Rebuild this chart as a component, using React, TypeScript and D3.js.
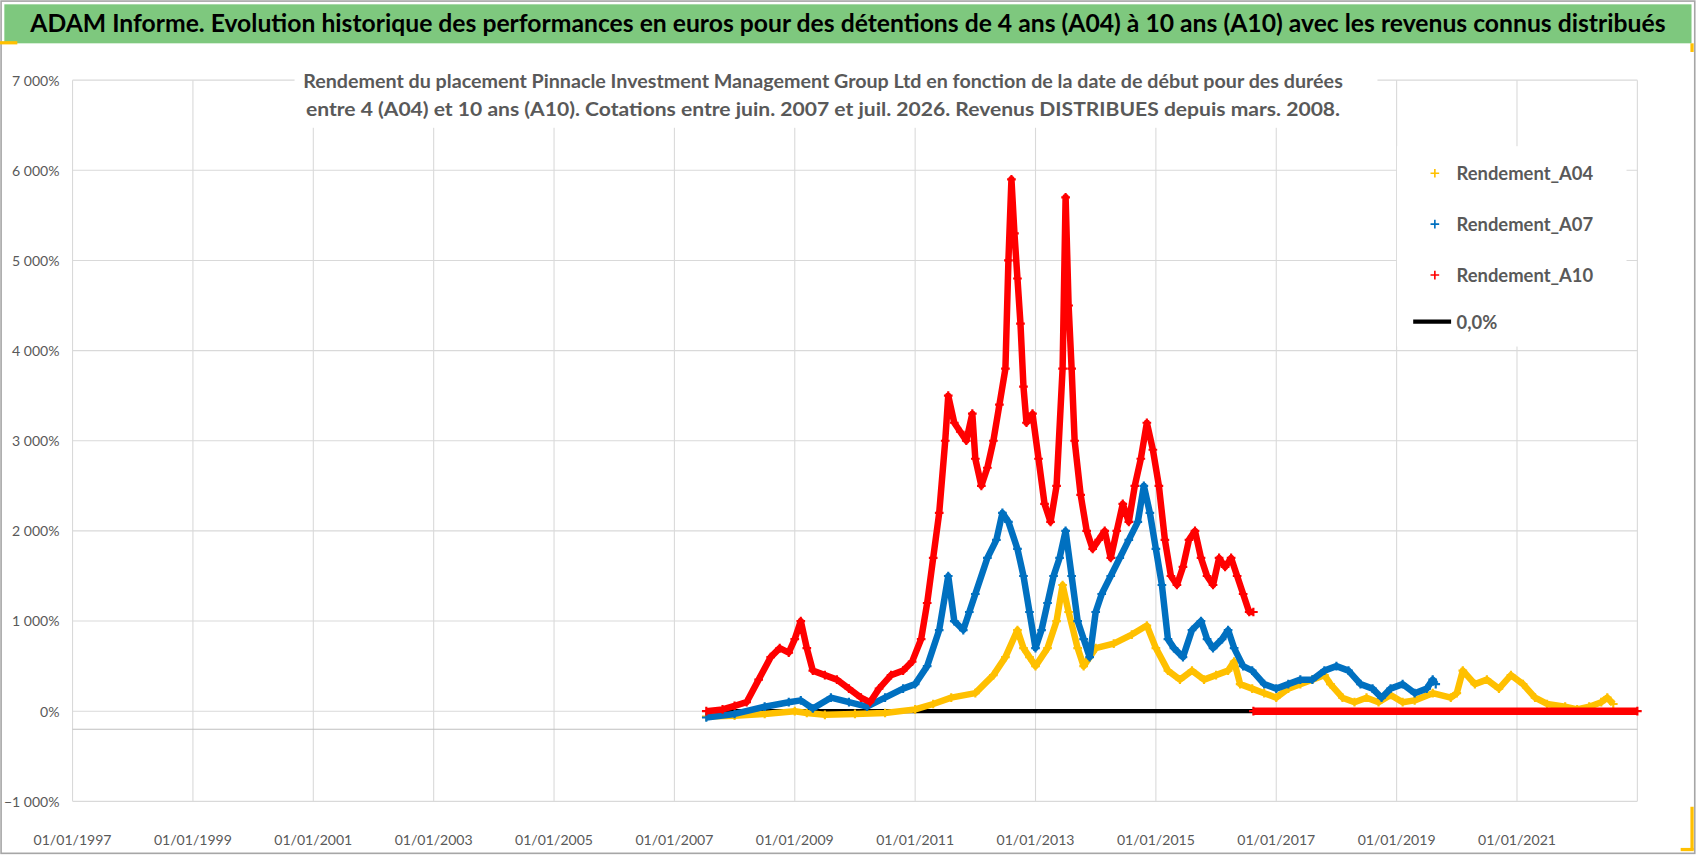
import React from "react";
import * as d3 from "d3";

const TITLE = "ADAM Informe. Evolution historique des performances en euros pour des détentions de 4 ans (A04) à 10 ans (A10) avec les revenus connus distribués";
const SUB1 = "Rendement du placement Pinnacle Investment Management Group Ltd en fonction de la date de début pour des durées";
const SUB2 = "entre 4 (A04) et 10 ans (A10).  Cotations entre juin. 2007 et juil. 2026. Revenus DISTRIBUES depuis mars. 2008.";

const xTickYears = [1997, 1999, 2001, 2003, 2005, 2007, 2009, 2011, 2013, 2015, 2017, 2019, 2021];
const yTicks = [-1000, 0, 1000, 2000, 3000, 4000, 5000, 6000, 7000];

const a10: [number, number][] = [
  [2007.53,0],[2007.8,20],[2008.0,60],[2008.2,100],[2008.4,350],[2008.6,600],[2008.75,700],[2008.9,650],[2009.0,800],[2009.1,1000],[2009.2,700],[2009.3,450],[2009.5,400],[2009.7,350],[2009.9,250],[2010.1,150],[2010.25,100],[2010.4,250],[2010.6,400],[2010.8,450],[2010.95,550],[2011.1,800],[2011.2,1200],[2011.3,1700],[2011.4,2200],[2011.5,3000],[2011.55,3500],[2011.65,3200],[2011.75,3100],[2011.85,3000],[2011.95,3300],[2012.0,2800],[2012.1,2500],[2012.2,2700],[2012.3,3000],[2012.4,3400],[2012.5,3800],[2012.55,5000],[2012.6,5900],[2012.65,5300],[2012.7,4800],[2012.75,4300],[2012.8,3600],[2012.85,3200],[2012.95,3300],[2013.05,2800],[2013.15,2300],[2013.25,2100],[2013.35,2500],[2013.45,3800],[2013.5,5700],[2013.55,4500],[2013.6,3800],[2013.65,3000],[2013.75,2400],[2013.85,2000],[2013.95,1800],[2014.05,1900],[2014.15,2000],[2014.25,1700],[2014.35,2000],[2014.45,2300],[2014.55,2100],[2014.65,2500],[2014.75,2800],[2014.85,3200],[2014.95,2900],[2015.05,2500],[2015.15,1900],[2015.25,1500],[2015.35,1400],[2015.45,1600],[2015.55,1900],[2015.65,2000],[2015.75,1700],[2015.85,1500],[2015.95,1400],[2016.05,1700],[2016.15,1600],[2016.25,1700],[2016.35,1500],[2016.45,1300],[2016.55,1100],[2016.62,1100]
];
const a10Zero: [number, number][] = [[2016.62,0],[2023.0,0]];

const a07: [number, number][] = [
  [2007.53,-70],[2008.0,-30],[2008.5,50],[2008.9,100],[2009.1,120],[2009.3,30],[2009.6,150],[2009.9,100],[2010.2,50],[2010.5,150],[2010.8,250],[2011.0,300],[2011.2,500],[2011.4,900],[2011.55,1500],[2011.65,1000],[2011.8,900],[2011.9,1100],[2012.0,1300],[2012.2,1700],[2012.35,1900],[2012.45,2200],[2012.55,2100],[2012.7,1800],[2012.8,1500],[2012.9,1100],[2013.0,700],[2013.1,900],[2013.2,1200],[2013.3,1500],[2013.4,1700],[2013.5,2000],[2013.6,1500],[2013.7,1000],[2013.8,800],[2013.9,600],[2014.0,1100],[2014.1,1300],[2014.25,1500],[2014.4,1700],[2014.55,1900],[2014.7,2100],[2014.8,2500],[2014.9,2200],[2015.0,1800],[2015.1,1400],[2015.2,800],[2015.3,700],[2015.45,600],[2015.6,900],[2015.75,1000],[2015.85,800],[2015.95,700],[2016.1,800],[2016.2,900],[2016.3,700],[2016.45,500],[2016.6,450],[2016.8,300],[2017.0,250],[2017.2,300],[2017.4,350],[2017.6,350],[2017.8,450],[2018.0,500],[2018.2,450],[2018.4,300],[2018.6,250],[2018.75,150],[2018.9,250],[2019.1,300],[2019.3,200],[2019.5,250],[2019.6,350],[2019.65,300]
];

const a04: [number, number][] = [
  [2007.53,-60],[2008.0,-50],[2008.5,-30],[2009.0,0],[2009.2,-20],[2009.5,-40],[2010.0,-30],[2010.5,-20],[2011.0,20],[2011.3,80],[2011.6,150],[2012.0,200],[2012.3,400],[2012.5,600],[2012.7,900],[2012.8,700],[2012.9,600],[2013.0,500],[2013.2,700],[2013.35,1000],[2013.45,1400],[2013.55,1100],[2013.7,700],[2013.8,500],[2014.0,700],[2014.3,750],[2014.6,850],[2014.85,950],[2015.0,700],[2015.2,450],[2015.4,350],[2015.6,450],[2015.8,350],[2016.0,400],[2016.2,450],[2016.3,550],[2016.4,300],[2016.6,250],[2016.8,200],[2017.0,150],[2017.2,250],[2017.4,300],[2017.6,350],[2017.8,400],[2017.9,300],[2018.1,150],[2018.3,100],[2018.5,150],[2018.7,100],[2018.9,180],[2019.1,100],[2019.3,120],[2019.6,200],[2019.9,150],[2020.0,200],[2020.1,450],[2020.3,300],[2020.5,350],[2020.7,250],[2020.9,400],[2021.1,300],[2021.3,150],[2021.5,80],[2021.8,50],[2022.0,20],[2022.2,50],[2022.4,100],[2022.5,150],[2022.6,80]
];
const zeroLine: [number, number][] = [[2007.53,0],[2016.62,0]];

const YELLOW = "#ffc000", BLUE = "#0070c0", RED = "#ff0000", GRAY = "#595959";
const FONT = "Lato, 'Open Sans', sans-serif";
const S = 1698 / 1568;

export default function App() {
  const L = 67, R = 1512, T = 74, B = 740;
  const x = d3.scaleLinear().domain([1997, 2023]).range([L, R]);
  const y = d3.scaleLinear().domain([-1000, 7000]).range([B, T]);
  const line = d3.line<[number, number]>().x(d => x(d[0])).y(d => y(d[1])).curve(d3.curveLinear);

  const series = (data: [number, number][], color: string, key: string) => (
    <g key={key}>
      <path d={line(data) || ""} fill="none" stroke={color} strokeWidth={6} strokeLinejoin="round" />
      {data.map((d, i) => (
        <path key={i} d={`M${x(d[0]) - 4},${y(d[1])}h8M${x(d[0])},${y(d[1]) - 4}v8`} stroke={color} strokeWidth={2} />
      ))}
    </g>
  );

  return (
    <svg width={1698} height={856} style={{ position: "absolute", left: 0, top: 0, fontFamily: FONT }}>
      <rect x={0} y={0} width={1698} height={856} fill="#fff" />
      <g transform={`scale(${S})`}>
      <rect x={1} y={1} width={1564} height={787} fill="none" stroke="#a6a6a6" strokeWidth={1.5} />
      <rect x={4} y={4} width={1558} height={36} fill="#7ec87e" />
      <text x={783} y={30} textAnchor="middle" fontSize={23} fontWeight="bold" fill="#000" textLength={1510} lengthAdjust="spacingAndGlyphs">{TITLE}</text>
      <rect x={0} y={38} width={16} height={3} fill={YELLOW} />
      <rect x={1561} y={40} width={3} height={8} fill={YELLOW} />
      <rect x={1561} y={745} width={3} height={40} fill={YELLOW} />
      <rect x={1552} y={783} width={12} height={3} fill={YELLOW} />

      {xTickYears.map(yr => (
        <line key={yr} x1={x(yr)} x2={x(yr)} y1={T} y2={B} stroke="#d9d9d9" />
      ))}
      <line x1={R} x2={R} y1={T} y2={B} stroke="#d9d9d9" />
      {yTicks.map(v => (
        <line key={v} x1={L} x2={R} y1={y(v)} y2={y(v)} stroke="#d9d9d9" />
      ))}
      <line x1={L} x2={R} y1={y(-200)} y2={y(-200)} stroke="#bfbfbf" />

      {yTicks.map(v => (
        <text key={v} x={55} y={y(v) + 5} textAnchor="end" fontSize={13} fill={GRAY}>
          {(v === 0 ? "0" : d3.format(",")(v).replace(",", " ")) + "%"}
        </text>
      ))}
      {xTickYears.map(yr => (
        <text key={yr} x={x(yr)} y={780} textAnchor="middle" fontSize={13} fill={GRAY}>{`01/01/${yr}`}</text>
      ))}

      <path d={line(zeroLine) || ""} stroke="#000" strokeWidth={4} fill="none" />
      {series(a04, YELLOW, "a04")}
      {series(a07, BLUE, "a07")}
      {series(a10, RED, "a10")}
      {series(a10Zero, RED, "a10z")}
      <path d={line(a10Zero) || ""} stroke={RED} strokeWidth={7} fill="none" />

      <rect x={272} y={58} width={1000} height={60} fill="#fff" />
      <text x={760} y={81} textAnchor="middle" fontSize={17.5} fontWeight="bold" fill={GRAY} textLength={960} lengthAdjust="spacingAndGlyphs">{SUB1}</text>
      <text x={760} y={107} textAnchor="middle" fontSize={17.5} fontWeight="bold" fill={GRAY} textLength={955} lengthAdjust="spacingAndGlyphs">{SUB2}</text>

      <rect x={1290} y={135} width={212} height={185} fill="#fff" />
      {[["Rendement_A04", YELLOW, 160], ["Rendement_A07", BLUE, 207], ["Rendement_A10", RED, 254]].map(([t, c, yy]) => (
        <g key={t as string}>
          <path d={`M${1321},${yy}h8M${1325},${(yy as number) - 4}v8`} stroke={c as string} strokeWidth={1.5} />
          <text x={1345} y={(yy as number) + 6} fontSize={17} fontWeight="bold" fill={GRAY}>{t}</text>
        </g>
      ))}
      <line x1={1305} x2={1340} y1={297} y2={297} stroke="#000" strokeWidth={4} />
      <text x={1345} y={304} fontSize={17} fontWeight="bold" fill={GRAY}>0,0%</text>
      </g>
    </svg>
  );
}
